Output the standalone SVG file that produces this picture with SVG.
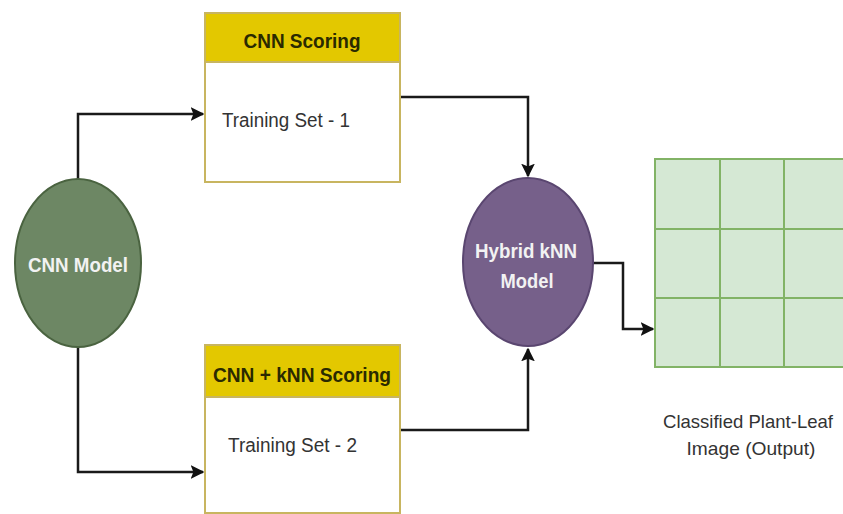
<svg xmlns="http://www.w3.org/2000/svg" width="843" height="514" viewBox="0 0 843 514">
<defs>
<style>
.box{fill:#ffffff;stroke:#c8b560;stroke-width:2}
.hdr{fill:#e3c800;stroke:#c8b560;stroke-width:2}
.htxt{font-family:"Liberation Sans",Arial,sans-serif;font-weight:bold;font-size:21px;fill:#2a2a00;text-anchor:middle}
.btxt{font-family:"Liberation Sans",Arial,sans-serif;font-size:20px;fill:#333}
.wtxt{font-family:"Liberation Sans",Arial,sans-serif;font-weight:bold;font-size:20px;fill:#f2f2f2;text-anchor:middle}
.conn{fill:none;stroke:#1a1a1a;stroke-width:2.5}
.cell{fill:#d5e8d4;stroke:#82b366;stroke-width:2}
.lbl{font-family:"Liberation Sans",Arial,sans-serif;font-size:19px;fill:#333;text-anchor:middle}
</style>
<marker id="arr" viewBox="0 0 10 10" refX="9" refY="5" markerWidth="5.5" markerHeight="5.5" orient="auto" markerUnits="strokeWidth">
<path d="M0,0 L10,5 L0,10 L2,5 z" fill="#111"/>
</marker>
</defs>
<rect width="843" height="514" fill="#ffffff"/>
<g id="connectors">
<path class="conn" d="M78,180 V114 H203" marker-end="url(#arr)"/>
<path class="conn" d="M78,347 V472 H203" marker-end="url(#arr)"/>
<path class="conn" d="M400,97 H528 V176" marker-end="url(#arr)"/>
<path class="conn" d="M400,430 H528 V349" marker-end="url(#arr)"/>
<path class="conn" d="M593,263 H623 V329 H653" marker-end="url(#arr)"/>
</g>
<g id="cnn-model">
<ellipse cx="78" cy="263" rx="63" ry="84" fill="#6d8764" stroke="#4a6340" stroke-width="2"/>
<text class="wtxt" x="78" y="272" textLength="100" lengthAdjust="spacingAndGlyphs">CNN Model</text>
</g>
<g id="cnn-scoring">
<rect class="box" x="205" y="13" width="195" height="169"/>
<rect class="hdr" x="205" y="13" width="195" height="49"/>
<text class="htxt" x="302" y="48" textLength="117" lengthAdjust="spacingAndGlyphs">CNN Scoring</text>
<text class="btxt" x="222" y="127" textLength="128" lengthAdjust="spacingAndGlyphs">Training Set - 1</text>
</g>
<g id="cnn-knn-scoring">
<rect class="box" x="205" y="345" width="195" height="168"/>
<rect class="hdr" x="205" y="345" width="195" height="52"/>
<text class="htxt" x="302" y="382" textLength="178" lengthAdjust="spacingAndGlyphs">CNN + kNN Scoring</text>
<text class="btxt" x="228" y="452" textLength="129" lengthAdjust="spacingAndGlyphs">Training Set - 2</text>
</g>
<g id="hybrid-knn">
<ellipse cx="528" cy="262" rx="65" ry="84" fill="#76608a" stroke="#5a4670" stroke-width="2"/>
<text class="wtxt" x="526" y="258" textLength="102" lengthAdjust="spacingAndGlyphs">Hybrid kNN</text>
<text class="wtxt" x="527" y="288" textLength="53" lengthAdjust="spacingAndGlyphs">Model</text>
</g>
<g id="output-grid">
<rect class="cell" x="655" y="159" width="65" height="70"/>
<rect class="cell" x="720" y="159" width="64" height="70"/>
<rect class="cell" x="784" y="159" width="65" height="70"/>
<rect class="cell" x="655" y="229" width="65" height="69"/>
<rect class="cell" x="720" y="229" width="64" height="69"/>
<rect class="cell" x="784" y="229" width="65" height="69"/>
<rect class="cell" x="655" y="298" width="65" height="69"/>
<rect class="cell" x="720" y="298" width="64" height="69"/>
<rect class="cell" x="784" y="298" width="65" height="69"/>
</g>
<g id="output-label">
<text class="lbl" x="748" y="428" textLength="170" lengthAdjust="spacingAndGlyphs">Classified Plant-Leaf</text>
<text class="lbl" x="751" y="455" textLength="129" lengthAdjust="spacingAndGlyphs">Image (Output)</text>
</g>
</svg>
